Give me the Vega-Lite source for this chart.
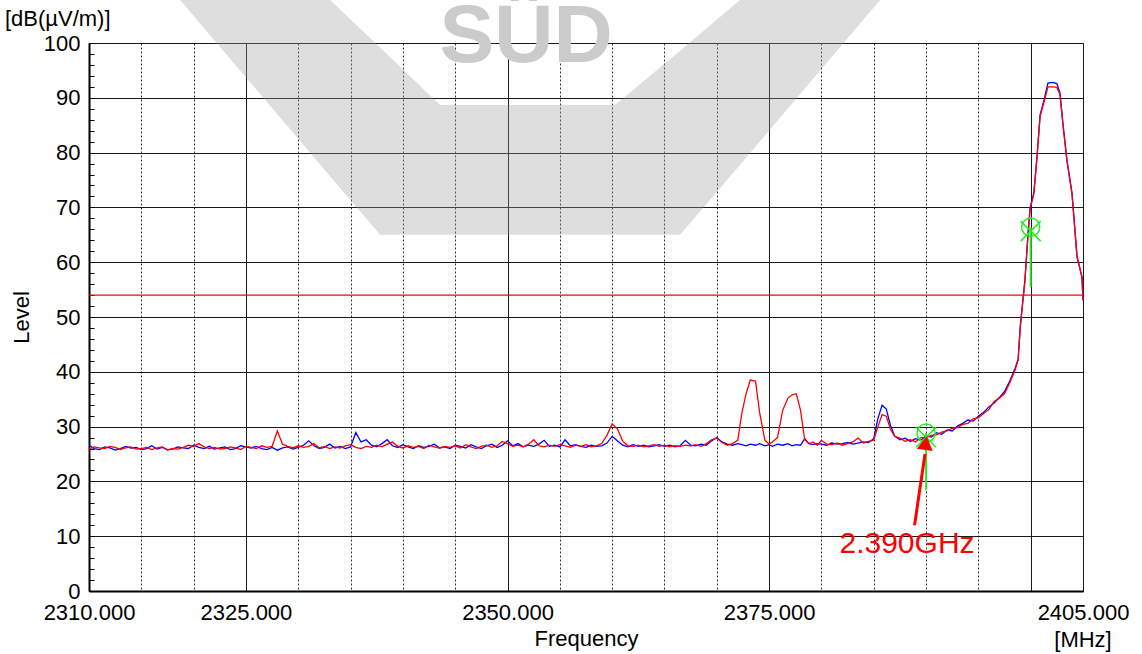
{
  "$schema": "https://vega.github.io/schema/vega-lite/v6.json",
  "width": 994,
  "height": 548,
  "autosize": {"type": "none"},
  "padding": {"left": 89, "top": 43, "right": 59, "bottom": 63},
  "background": "white",
  "config": {
    "font": "Liberation Sans",
    "view": {"stroke": "#7f7f7f", "strokeWidth": 1}
  },
  "datasets": {
    "watermark": [
      {"f": 2318.70, "lo": 107.85, "hi": 107.85},
      {"f": 2333.04, "lo": 75.7, "hi": 107.85},
      {"f": 2337.82, "lo": 65.0, "hi": 99.2},
      {"f": 2343.55, "lo": 65.0, "hi": 88.7},
      {"f": 2360.28, "lo": 65.0, "hi": 88.7},
      {"f": 2366.49, "lo": 65.0, "hi": 98.6},
      {"f": 2372.23, "lo": 77.8, "hi": 107.85},
      {"f": 2385.61, "lo": 107.85, "hi": 107.85}
    ],
    "trace": [
      {"f": 2310.0, "b": 26.6, "r": 25.9},
      {"f": 2310.5, "b": 26.0, "r": 26.3},
      {"f": 2311.0, "b": 25.8, "r": 26.1},
      {"f": 2311.5, "b": 26.3, "r": 26.0},
      {"f": 2312.0, "b": 26.1, "r": 26.4},
      {"f": 2312.5, "b": 25.7, "r": 26.2},
      {"f": 2313.0, "b": 26.0, "r": 25.8},
      {"f": 2313.5, "b": 26.4, "r": 26.1},
      {"f": 2314.0, "b": 26.1, "r": 26.3},
      {"f": 2314.5, "b": 26.2, "r": 25.9},
      {"f": 2315.0, "b": 25.8, "r": 26.0},
      {"f": 2315.5, "b": 26.0, "r": 26.2},
      {"f": 2316.0, "b": 26.5, "r": 25.8},
      {"f": 2316.5, "b": 25.9, "r": 26.1},
      {"f": 2317.0, "b": 26.2, "r": 26.3},
      {"f": 2317.5, "b": 25.8, "r": 25.7},
      {"f": 2318.0, "b": 25.9, "r": 26.0},
      {"f": 2318.5, "b": 26.3, "r": 25.9},
      {"f": 2319.0, "b": 26.1, "r": 26.2},
      {"f": 2319.5, "b": 26.0, "r": 26.6},
      {"f": 2320.0, "b": 26.6, "r": 26.4},
      {"f": 2320.5, "b": 26.2, "r": 26.9},
      {"f": 2321.0, "b": 26.0, "r": 26.3},
      {"f": 2321.5, "b": 26.4, "r": 26.0},
      {"f": 2322.0, "b": 25.9, "r": 26.2},
      {"f": 2322.5, "b": 26.1, "r": 25.9},
      {"f": 2323.0, "b": 26.3, "r": 26.0},
      {"f": 2323.5, "b": 25.8, "r": 26.3},
      {"f": 2324.0, "b": 26.0, "r": 26.1},
      {"f": 2324.5, "b": 26.5, "r": 25.8},
      {"f": 2325.0, "b": 26.3, "r": 26.4},
      {"f": 2325.5, "b": 26.1, "r": 26.2},
      {"f": 2326.0, "b": 26.4, "r": 26.0},
      {"f": 2326.5, "b": 26.0, "r": 26.5},
      {"f": 2327.0, "b": 25.8, "r": 26.2},
      {"f": 2327.5, "b": 26.2, "r": 26.4},
      {"f": 2328.0, "b": 25.7, "r": 29.2},
      {"f": 2328.5, "b": 26.1, "r": 26.8},
      {"f": 2329.0, "b": 26.3, "r": 26.4},
      {"f": 2329.5, "b": 25.9, "r": 26.1},
      {"f": 2330.0, "b": 26.2, "r": 26.5},
      {"f": 2330.5, "b": 26.6, "r": 26.2},
      {"f": 2331.0, "b": 27.4, "r": 26.4},
      {"f": 2331.5, "b": 26.5, "r": 26.9},
      {"f": 2332.0, "b": 26.0, "r": 26.1},
      {"f": 2332.5, "b": 26.2, "r": 26.4},
      {"f": 2333.0, "b": 26.8, "r": 26.0},
      {"f": 2333.5, "b": 26.1, "r": 26.3},
      {"f": 2334.0, "b": 26.4, "r": 26.1},
      {"f": 2334.5, "b": 26.0, "r": 26.5},
      {"f": 2335.0, "b": 26.3, "r": 26.7},
      {"f": 2335.5, "b": 28.9, "r": 26.2},
      {"f": 2336.0, "b": 27.2, "r": 26.0},
      {"f": 2336.5, "b": 27.6, "r": 26.4},
      {"f": 2337.0, "b": 26.6, "r": 26.2},
      {"f": 2337.5, "b": 26.3, "r": 26.6},
      {"f": 2338.0, "b": 26.9, "r": 26.3},
      {"f": 2338.5, "b": 27.6, "r": 26.8},
      {"f": 2339.0, "b": 26.5, "r": 27.2},
      {"f": 2339.5, "b": 26.2, "r": 26.4},
      {"f": 2340.0, "b": 26.7, "r": 26.1},
      {"f": 2340.5, "b": 26.3, "r": 26.5},
      {"f": 2341.0, "b": 26.0, "r": 26.2},
      {"f": 2341.5, "b": 26.5, "r": 26.4},
      {"f": 2342.0, "b": 26.2, "r": 26.0},
      {"f": 2342.5, "b": 26.4, "r": 26.6},
      {"f": 2343.0, "b": 26.8, "r": 26.3},
      {"f": 2343.5, "b": 26.1, "r": 26.1},
      {"f": 2344.0, "b": 26.3, "r": 26.4},
      {"f": 2344.5, "b": 26.0, "r": 26.2},
      {"f": 2345.0, "b": 26.6, "r": 26.5},
      {"f": 2345.5, "b": 26.4, "r": 26.1},
      {"f": 2346.0, "b": 26.1, "r": 26.7},
      {"f": 2346.5, "b": 26.7, "r": 26.3},
      {"f": 2347.0, "b": 26.3, "r": 26.0},
      {"f": 2347.5, "b": 26.0, "r": 26.4},
      {"f": 2348.0, "b": 26.5, "r": 26.6},
      {"f": 2348.5, "b": 26.8, "r": 26.2},
      {"f": 2349.0, "b": 26.2, "r": 26.5},
      {"f": 2349.5, "b": 26.6, "r": 27.3},
      {"f": 2350.0, "b": 27.4, "r": 26.9},
      {"f": 2350.5, "b": 26.5, "r": 26.4},
      {"f": 2351.0, "b": 26.9, "r": 26.6},
      {"f": 2351.5, "b": 26.3, "r": 26.3},
      {"f": 2352.0, "b": 26.6, "r": 26.8},
      {"f": 2352.5, "b": 26.4, "r": 27.6},
      {"f": 2353.0, "b": 26.8, "r": 26.5},
      {"f": 2353.5, "b": 27.5, "r": 26.3},
      {"f": 2354.0, "b": 26.4, "r": 26.6},
      {"f": 2354.5, "b": 26.6, "r": 26.4},
      {"f": 2355.0, "b": 26.3, "r": 26.7},
      {"f": 2355.5, "b": 27.6, "r": 26.5},
      {"f": 2356.0, "b": 26.5, "r": 26.2},
      {"f": 2356.5, "b": 26.7, "r": 26.6},
      {"f": 2357.0, "b": 26.4, "r": 26.4},
      {"f": 2357.5, "b": 26.2, "r": 26.7},
      {"f": 2358.0, "b": 26.6, "r": 26.3},
      {"f": 2358.5, "b": 26.4, "r": 26.5},
      {"f": 2359.0, "b": 26.5, "r": 26.9},
      {"f": 2359.5, "b": 27.0, "r": 28.4},
      {"f": 2360.0, "b": 28.2, "r": 30.5},
      {"f": 2360.5, "b": 27.4, "r": 29.6},
      {"f": 2361.0, "b": 26.6, "r": 27.4},
      {"f": 2361.5, "b": 26.3, "r": 26.5},
      {"f": 2362.0, "b": 26.7, "r": 26.4},
      {"f": 2362.5, "b": 26.4, "r": 26.6},
      {"f": 2363.0, "b": 26.6, "r": 26.3},
      {"f": 2363.5, "b": 26.3, "r": 26.5},
      {"f": 2364.0, "b": 26.5, "r": 26.7},
      {"f": 2364.5, "b": 26.7, "r": 26.4},
      {"f": 2365.0, "b": 26.4, "r": 26.6},
      {"f": 2365.5, "b": 26.6, "r": 26.3},
      {"f": 2366.0, "b": 26.3, "r": 26.5},
      {"f": 2366.5, "b": 26.5, "r": 26.4},
      {"f": 2367.0, "b": 27.5, "r": 26.6},
      {"f": 2367.5, "b": 26.6, "r": 26.5},
      {"f": 2368.0, "b": 26.5, "r": 26.7},
      {"f": 2368.5, "b": 26.8, "r": 26.4},
      {"f": 2369.0, "b": 26.6, "r": 26.9},
      {"f": 2369.5, "b": 27.4, "r": 27.6},
      {"f": 2370.0, "b": 28.0, "r": 27.9},
      {"f": 2370.5, "b": 27.2, "r": 27.1},
      {"f": 2371.0, "b": 26.8, "r": 26.6},
      {"f": 2371.5, "b": 26.6, "r": 26.9},
      {"f": 2372.0, "b": 26.9, "r": 27.5},
      {"f": 2372.4, "b": 26.7, "r": 32.5},
      {"f": 2372.8, "b": 26.5, "r": 36.0},
      {"f": 2373.2, "b": 26.8, "r": 38.5},
      {"f": 2373.7, "b": 26.6, "r": 38.3},
      {"f": 2374.1, "b": 26.9, "r": 32.5},
      {"f": 2374.6, "b": 26.5, "r": 27.5},
      {"f": 2375.0, "b": 26.7, "r": 26.8},
      {"f": 2375.3, "b": 26.4, "r": 27.2},
      {"f": 2375.8, "b": 26.8, "r": 28.0},
      {"f": 2376.3, "b": 26.6, "r": 33.0},
      {"f": 2376.8, "b": 26.9, "r": 35.2},
      {"f": 2377.2, "b": 26.5, "r": 35.8},
      {"f": 2377.6, "b": 26.7, "r": 36.0},
      {"f": 2378.0, "b": 26.6, "r": 33.0},
      {"f": 2378.4, "b": 27.8, "r": 27.6},
      {"f": 2378.8, "b": 26.9, "r": 26.9},
      {"f": 2379.2, "b": 26.7, "r": 27.2},
      {"f": 2379.6, "b": 26.9, "r": 26.6},
      {"f": 2380.0, "b": 26.8, "r": 27.5},
      {"f": 2380.5, "b": 26.6, "r": 26.8},
      {"f": 2381.0, "b": 27.0, "r": 26.7},
      {"f": 2381.5, "b": 26.8, "r": 27.0},
      {"f": 2382.0, "b": 26.9, "r": 26.6},
      {"f": 2382.5, "b": 27.1, "r": 26.9},
      {"f": 2383.0, "b": 26.8, "r": 27.2},
      {"f": 2383.5, "b": 27.0, "r": 27.9},
      {"f": 2384.0, "b": 27.2, "r": 27.0},
      {"f": 2384.5, "b": 27.1, "r": 27.3},
      {"f": 2385.0, "b": 27.8, "r": 27.5},
      {"f": 2385.4, "b": 31.5, "r": 30.0},
      {"f": 2385.8, "b": 33.9, "r": 32.2},
      {"f": 2386.2, "b": 33.2, "r": 31.9},
      {"f": 2386.6, "b": 30.2, "r": 29.5},
      {"f": 2387.0, "b": 28.3, "r": 28.2},
      {"f": 2387.5, "b": 27.6, "r": 27.9},
      {"f": 2388.0, "b": 27.9, "r": 27.3},
      {"f": 2388.5, "b": 27.3, "r": 27.6},
      {"f": 2389.0, "b": 27.8, "r": 27.2},
      {"f": 2389.5, "b": 27.5, "r": 28.0},
      {"f": 2390.0, "b": 28.3, "r": 28.0},
      {"f": 2390.5, "b": 28.1, "r": 28.4},
      {"f": 2391.0, "b": 28.9, "r": 28.5},
      {"f": 2391.5, "b": 28.6, "r": 29.0},
      {"f": 2392.0, "b": 29.4, "r": 29.2},
      {"f": 2392.5, "b": 29.2, "r": 29.7},
      {"f": 2393.0, "b": 30.1, "r": 29.8},
      {"f": 2393.5, "b": 30.6, "r": 30.4},
      {"f": 2394.0, "b": 31.2, "r": 30.6},
      {"f": 2394.5, "b": 31.0, "r": 31.4},
      {"f": 2395.0, "b": 31.9, "r": 31.6},
      {"f": 2395.5, "b": 32.6, "r": 32.4},
      {"f": 2396.0, "b": 33.6, "r": 33.1},
      {"f": 2396.5, "b": 34.3, "r": 34.6},
      {"f": 2397.0, "b": 35.3, "r": 35.2},
      {"f": 2397.5, "b": 36.4, "r": 36.0},
      {"f": 2398.0, "b": 38.3, "r": 38.0},
      {"f": 2398.5, "b": 40.6, "r": 40.3},
      {"f": 2398.8, "b": 42.3, "r": 42.1},
      {"f": 2399.0, "b": 48.2, "r": 48.0},
      {"f": 2399.45, "b": 56.8, "r": 56.6},
      {"f": 2399.75, "b": 65.3, "r": 65.1},
      {"f": 2399.95, "b": 70.0, "r": 69.8},
      {"f": 2400.3, "b": 72.6, "r": 72.4},
      {"f": 2400.6, "b": 79.2, "r": 79.0},
      {"f": 2400.9, "b": 86.9, "r": 86.6},
      {"f": 2401.3, "b": 89.8, "r": 89.4},
      {"f": 2401.65, "b": 92.7, "r": 92.0},
      {"f": 2402.1, "b": 92.8, "r": 92.0},
      {"f": 2402.5, "b": 92.6, "r": 91.9},
      {"f": 2402.8, "b": 90.9, "r": 90.6},
      {"f": 2403.1, "b": 85.0, "r": 84.8},
      {"f": 2403.47, "b": 78.6, "r": 78.4},
      {"f": 2403.95, "b": 72.6, "r": 72.4},
      {"f": 2404.43, "b": 61.0, "r": 61.0},
      {"f": 2404.9, "b": 57.3, "r": 57.3},
      {"f": 2405.0, "b": 53.0, "r": 53.0}
    ],
    "markers": [
      {"f": 2390.0, "v": 28.8, "lo": 18.4},
      {"f": 2400.0, "v": 66.4, "lo": 55.5}
    ],
    "arrow": [
      {"f": 2388.9, "v": 12.0},
      {"f": 2389.9, "v": 25.0}
    ],
    "one": [{}]
  },
  "resolve": {"axis": {"x": "independent", "y": "independent"}},
  "layer": [
    {
      "data": {"name": "watermark"},
      "mark": {"type": "area", "color": "#9a9a9a", "opacity": 0.33},
      "encoding": {
        "x": {
          "field": "f", "type": "quantitative",
          "scale": {"domain": [2310, 2405], "nice": false},
          "axis": {
            "orient": "bottom",
            "values": [2315, 2320, 2330, 2335, 2340, 2345, 2355, 2360, 2365, 2370, 2380, 2385, 2390, 2395],
            "labels": false,
            "ticks": false,
            "domain": false,
            "grid": true,
            "gridColor": "#333",
            "gridWidth": 1,
            "gridDash": [2, 2],
            "title": null
          }
        },
        "y": {
          "field": "lo", "type": "quantitative",
          "scale": {"domain": [0, 100], "nice": false},
          "axis": {
            "orient": "left",
            "values": [0, 2, 4, 6, 8, 10, 12, 14, 16, 18, 20, 22, 24, 26, 28, 30, 32, 34, 36, 38, 40, 42, 44, 46, 48, 50, 52, 54, 56, 58, 60, 62, 64, 66, 68, 70, 72, 74, 76, 78, 80, 82, 84, 86, 88, 90, 92, 94, 96, 98, 100],
            "offset": -5,
            "labels": false,
            "ticks": true,
            "tickSize": 5,
            "tickColor": "#000",
            "tickWidth": 1,
            "domain": false,
            "grid": false,
            "title": null
          }
        },
        "y2": {"field": "hi"}
      }
    },
    {
      "data": {"name": "one"},
      "mark": {"type": "text", "text": "SÜD", "font": "Liberation Sans", "fontWeight": "bold", "fontSize": 82, "color": "#cbcbcb", "align": "center", "baseline": "alphabetic"},
      "encoding": {
        "x": {"datum": 2351.77, "type": "quantitative", "scale": {"domain": [2310, 2405], "nice": false}, "axis": null},
        "y": {"datum": 96.5, "type": "quantitative", "scale": {"domain": [0, 100], "nice": false}, "axis": null}
      }
    },
    {
      "data": {"name": "trace"},
      "mark": {"type": "line", "color": "#0000ff", "strokeWidth": 1.3},
      "encoding": {
        "x": {
          "field": "f", "type": "quantitative",
          "scale": {"domain": [2310, 2405], "nice": false},
          "axis": {
            "orient": "bottom",
            "values": [2310, 2325, 2350, 2375, 2400, 2405],
            "labelExpr": "datum.value == 2400 ? '' : format(datum.value, '.3f')",
            "labelOverlap": false,
            "labelFlush": false,
            "labelFontSize": 22,
            "labelColor": "#000",
            "labelPadding": 11,
            "ticks": false,
            "grid": true,
            "gridColor": "#1a1a1a",
            "gridWidth": 1,
            "domainColor": "#000",
            "domainWidth": 2,
            "title": "Frequency",
            "titleFontSize": 22,
            "titleFontWeight": "normal",
            "titleColor": "#000",
            "titlePadding": 5
          }
        },
        "y": {
          "field": "b", "type": "quantitative",
          "scale": {"domain": [0, 100], "nice": false},
          "axis": {
            "orient": "left",
            "values": [0, 10, 20, 30, 40, 50, 60, 70, 80, 90, 100],
            "labelOverlap": false,
            "labelFlush": false,
            "labelFontSize": 22,
            "labelColor": "#000",
            "labelPadding": 9,
            "ticks": false,
            "grid": true,
            "gridColor": "#1a1a1a",
            "gridWidth": 1,
            "domainColor": "#000",
            "domainWidth": 2,
            "title": "Level",
            "titleFontSize": 22,
            "titleFontWeight": "normal",
            "titleColor": "#000",
            "titlePadding": 10
          }
        }
      }
    },
    {
      "data": {"name": "trace"},
      "mark": {"type": "line", "color": "#ff0000", "strokeWidth": 1.3},
      "encoding": {
        "x": {"field": "f", "type": "quantitative", "scale": {"domain": [2310, 2405], "nice": false}, "axis": null},
        "y": {"field": "r", "type": "quantitative", "scale": {"domain": [0, 100], "nice": false}, "axis": null}
      }
    },
    {
      "data": {"name": "one"},
      "mark": {"type": "rule", "color": "#ff0000", "strokeWidth": 1.2},
      "encoding": {
        "y": {"datum": 54, "type": "quantitative", "scale": {"domain": [0, 100], "nice": false}, "axis": null}
      }
    },
    {
      "data": {"name": "markers"},
      "mark": {"type": "rule", "color": "#22ee22", "strokeWidth": 2},
      "encoding": {
        "x": {"field": "f", "type": "quantitative", "scale": {"domain": [2310, 2405], "nice": false}, "axis": null},
        "y": {"field": "v", "type": "quantitative", "scale": {"domain": [0, 100], "nice": false}, "axis": null},
        "y2": {"field": "lo"}
      }
    },
    {
      "data": {"name": "markers"},
      "mark": {"type": "point", "shape": "circle", "size": 330, "filled": false, "color": "#22ee22", "strokeWidth": 1.5, "opacity": 1},
      "encoding": {
        "x": {"field": "f", "type": "quantitative", "scale": {"domain": [2310, 2405], "nice": false}, "axis": null},
        "y": {"field": "v", "type": "quantitative", "scale": {"domain": [0, 100], "nice": false}, "axis": null}
      }
    },
    {
      "data": {"name": "markers"},
      "mark": {"type": "point", "shape": "M-1,-1L1,1M-1,1L1,-1", "size": 400, "filled": false, "color": "#22ee22", "strokeWidth": 1.5, "opacity": 1, "yOffset": 4},
      "encoding": {
        "x": {"field": "f", "type": "quantitative", "scale": {"domain": [2310, 2405], "nice": false}, "axis": null},
        "y": {"field": "v", "type": "quantitative", "scale": {"domain": [0, 100], "nice": false}, "axis": null}
      }
    },
    {
      "data": {"name": "arrow"},
      "mark": {"type": "line", "color": "#ff0000", "strokeWidth": 3},
      "encoding": {
        "x": {"field": "f", "type": "quantitative", "scale": {"domain": [2310, 2405], "nice": false}, "axis": null},
        "y": {"field": "v", "type": "quantitative", "scale": {"domain": [0, 100], "nice": false}, "axis": null}
      }
    },
    {
      "data": {"name": "one"},
      "mark": {"type": "point", "shape": "triangle-up", "size": 260, "filled": true, "color": "#ff0000", "opacity": 1, "angle": 8},
      "encoding": {
        "x": {"datum": 2389.97, "type": "quantitative", "scale": {"domain": [2310, 2405], "nice": false}, "axis": null},
        "y": {"datum": 27.0, "type": "quantitative", "scale": {"domain": [0, 100], "nice": false}, "axis": null}
      }
    },
    {
      "data": {"name": "one"},
      "mark": {"type": "text", "text": "2.390GHz", "fontSize": 30, "color": "#ff0000", "align": "center", "baseline": "alphabetic"},
      "encoding": {
        "x": {"datum": 2388.18, "type": "quantitative", "scale": {"domain": [2310, 2405], "nice": false}, "axis": null},
        "y": {"datum": 6.9, "type": "quantitative", "scale": {"domain": [0, 100], "nice": false}, "axis": null}
      }
    },
    {
      "data": {"name": "one"},
      "mark": {"type": "text", "text": "[MHz]", "fontSize": 22, "color": "#000", "align": "center", "baseline": "alphabetic"},
      "encoding": {
        "x": {"datum": 2405, "type": "quantitative", "scale": {"domain": [2310, 2405], "nice": false}, "axis": null},
        "y": {"datum": -10.2, "type": "quantitative", "scale": {"domain": [0, 100], "nice": false}, "axis": null}
      }
    },
    {
      "data": {"name": "one"},
      "mark": {"type": "text", "text": "[dB(µV/m)]", "fontSize": 22, "color": "#000", "align": "left", "baseline": "alphabetic"},
      "encoding": {
        "x": {"datum": 2301.97, "type": "quantitative", "scale": {"domain": [2310, 2405], "nice": false}, "axis": null},
        "y": {"datum": 103.1, "type": "quantitative", "scale": {"domain": [0, 100], "nice": false}, "axis": null}
      }
    }
  ]
}
